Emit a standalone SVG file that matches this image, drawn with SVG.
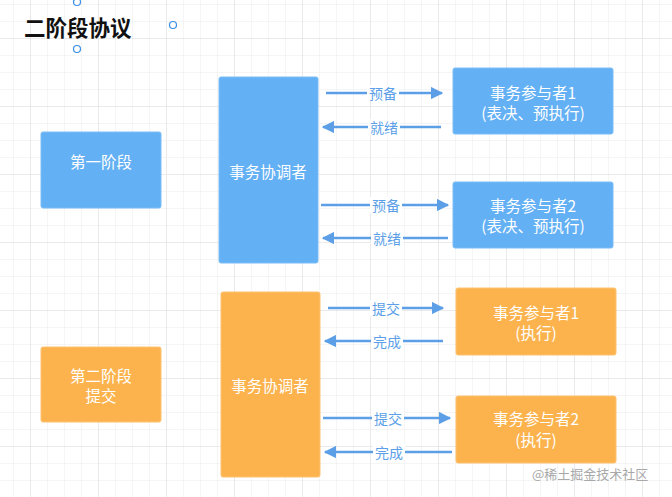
<svg xmlns="http://www.w3.org/2000/svg" width="672" height="497" viewBox="0 0 672 497">
<defs>
<pattern id="minor" x="13" y="4" width="17" height="17" patternUnits="userSpaceOnUse">
<path d="M0 0H17M0 0V17" fill="none" stroke="#ececec" stroke-width="1"/>
</pattern>
<pattern id="major" x="30" y="38" width="68" height="68" patternUnits="userSpaceOnUse">
<path d="M0 0H68M0 0V68" fill="none" stroke="#e2e2e2" stroke-width="1.2"/>
</pattern>
<marker id="ah" viewBox="0 0 10 10" refX="9" refY="5" markerWidth="5" markerHeight="5" orient="auto" markerUnits="strokeWidth">
<path d="M0 0L10 5L0 10Z" fill="#5c9fe7"/>
</marker>
</defs>
<style>
.blue{fill:#63b0f4;stroke:#7cbdf5;stroke-width:1}
.orange{fill:#fcb34d;stroke:#fdc272;stroke-width:1}
.nt{font-family:"Noto Sans CJK SC","Noto Sans",sans-serif;font-size:15.5px;fill:#ffffff;text-anchor:middle;dominant-baseline:central}
.ln{stroke:#5c9fe7;stroke-width:2.5;fill:none;marker-end:url(#ah)}
.lb{font-family:"Noto Sans CJK SC","Noto Sans",sans-serif;font-size:14px;fill:#5c9fe7;text-anchor:middle;dominant-baseline:central}
.lbg{fill:#ffffff}
.h{fill:#ffffff;stroke:#3a8ee6;stroke-width:1.2}
</style>
<rect width="672" height="497" fill="#ffffff"/>
<rect width="672" height="497" fill="url(#minor)"/>
<rect width="672" height="497" fill="url(#major)"/>

<g id="title">
<text x="24" y="26" font-family="'Noto Sans CJK SC',sans-serif" font-size="21.5" font-weight="bold" fill="#111" dominant-baseline="central">二阶段协议</text>
<circle class="h" cx="77" cy="2" r="3.5"/>
<circle class="h" cx="173" cy="25" r="3.5"/>
<circle class="h" cx="77" cy="49" r="3.5"/>
</g>

<g id="phase1">
<rect class="blue" x="41" y="132" width="120" height="76" rx="2"/>
<text class="nt" x="101" y="161">第一阶段</text>
</g>
<g id="coord1">
<rect class="blue" x="219" y="77" width="99" height="186" rx="2"/>
<text class="nt" x="268" y="171">事务协调者</text>
</g>
<g id="p1a">
<rect class="blue" x="453" y="68" width="160" height="66" rx="2"/>
<text class="nt" x="533" y="92">事务参与者1</text>
<text class="nt" x="533" y="112">(表决、预执行)</text>
</g>
<g id="p1b">
<rect class="blue" x="453" y="182" width="160" height="66" rx="2"/>
<text class="nt" x="533" y="205">事务参与者2</text>
<text class="nt" x="533" y="225">(表决、预执行)</text>
</g>

<g id="phase2">
<rect class="orange" x="41" y="347" width="120" height="75" rx="2"/>
<text class="nt" x="101" y="375">第二阶段</text>
<text class="nt" x="101" y="395">提交</text>
</g>
<g id="coord2">
<rect class="orange" x="221" y="292" width="99" height="185" rx="2"/>
<text class="nt" x="270" y="385">事务协调者</text>
</g>
<g id="p2a">
<rect class="orange" x="456" y="288" width="160" height="67" rx="2"/>
<text class="nt" x="536" y="312">事务参与者1</text>
<text class="nt" x="536" y="332">(执行)</text>
</g>
<g id="p2b">
<rect class="orange" x="456" y="396" width="160" height="67" rx="2"/>
<text class="nt" x="536" y="418">事务参与者2</text>
<text class="nt" x="536" y="439">(执行)</text>
</g>

<g id="connectors">
<line class="ln" x1="326" y1="93" x2="442" y2="93"/>
<rect class="lbg" x="367" y="85" width="32" height="16"/>
<text class="lb" x="383" y="93">预备</text>

<line class="ln" x1="441" y1="127" x2="323" y2="127"/>
<rect class="lbg" x="368" y="119" width="32" height="16"/>
<text class="lb" x="384" y="127">就绪</text>

<line class="ln" x1="321" y1="205" x2="448" y2="205"/>
<rect class="lbg" x="370" y="197" width="32" height="16"/>
<text class="lb" x="386" y="205">预备</text>

<line class="ln" x1="448" y1="238" x2="323" y2="238"/>
<rect class="lbg" x="371" y="230" width="32" height="16"/>
<text class="lb" x="387" y="238">就绪</text>

<line class="ln" x1="328" y1="308" x2="443" y2="308"/>
<rect class="lbg" x="370" y="300" width="32" height="16"/>
<text class="lb" x="386" y="308">提交</text>

<line class="ln" x1="443" y1="341" x2="325" y2="341"/>
<rect class="lbg" x="371" y="333" width="32" height="16"/>
<text class="lb" x="387" y="341">完成</text>

<line class="ln" x1="323" y1="418" x2="450" y2="418"/>
<rect class="lbg" x="372" y="410" width="32" height="16"/>
<text class="lb" x="388" y="418">提交</text>

<line class="ln" x1="452" y1="452" x2="325" y2="452"/>
<rect class="lbg" x="373" y="444" width="32" height="16"/>
<text class="lb" x="389" y="452">完成</text>
</g>

<text x="532" y="473" font-family="'Noto Sans CJK SC',sans-serif" font-size="13" fill="#a8a8a8" dominant-baseline="central">@稀土掘金技术社区</text>
</svg>
